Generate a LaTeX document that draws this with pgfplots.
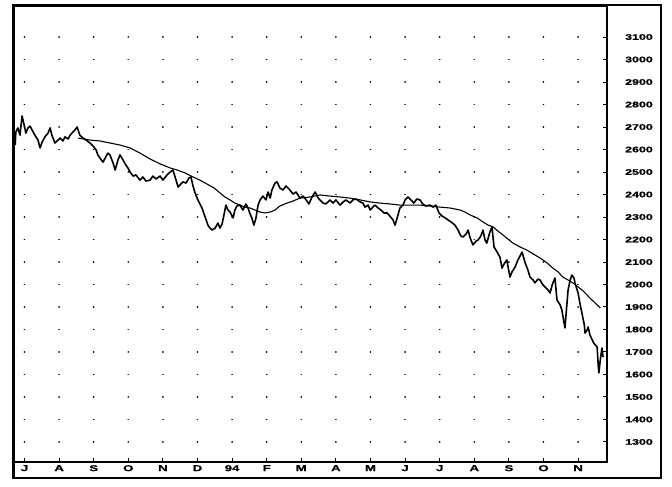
\documentclass[border=0pt]{standalone}
\usepackage{fontspec}
\setmainfont{Liberation Sans}[FakeStretch=1.55, BoldFeatures={FakeBold=1.2}]
\usepackage{pgfplots}
\pgfplotsset{compat=1.18}
\begin{document}
\begin{tikzpicture}
\path[use as bounding box] (-14bp,-25bp) rectangle (658bp,462bp);
\begin{axis}[
  at={(0,0)}, anchor=south west,
  scale only axis, width=593bp, height=456bp,
  xmin=-0.3035, xmax=16.835, ymin=1211, ymax=3238,
  axis line style={line width=1.8bp},
  xtick={0,...,16},
  xticklabels={J,A,S,O,N,D,94,F,M,A,M,J,J,A,S,O,N},
  ytick={1300,1400,...,3100},
  yticklabel pos=right, ytick pos=right, xtick pos=bottom,
  tick align=inside, major tick length=4bp,
  tick style={line width=1bp, black},
  /pgf/number format/assume math mode=true,
  /pgf/number format/1000 sep={},
  ticklabel style={font=\fontsize{8bp}{9bp}\selectfont\bfseries},
  yticklabel style={anchor=west, inner sep=0pt, xshift=18bp},
  xticklabel style={anchor=north, inner sep=0pt, yshift=-3bp, font=\fontsize{8.5bp}{9bp}\selectfont\bfseries},
  ymajorgrids=true, xmajorgrids=false,
  major y grid style={draw=black, line width=1.8bp, line cap=round, dash pattern=on 0.05bp off 34.55bp, dash phase=24.17bp},
]
\addplot[black, line width=1.6bp, line join=round] coordinates {
(-0.27,2620) (-0.25,2678) (-0.19,2696) (-0.13,2664) (-0.07,2749) (-0.01,2709)
(0.04,2673) (0.10,2696) (0.16,2704) (0.25,2678) (0.30,2664) (0.39,2642)
(0.45,2607) (0.51,2633) (0.59,2656) (0.68,2673) (0.74,2696) (0.79,2664)
(0.88,2629) (0.97,2642) (1.03,2651) (1.11,2638) (1.17,2656) (1.26,2647)
(1.32,2664) (1.40,2678) (1.46,2687) (1.52,2700) (1.60,2664) (1.69,2651)
(1.78,2642) (1.89,2629) (1.98,2616) (2.07,2598) (2.12,2576) (2.18,2562)
(2.27,2544) (2.33,2562) (2.41,2584) (2.47,2576) (2.56,2540) (2.62,2509)
(2.70,2553) (2.76,2576) (2.85,2553) (2.91,2536) (2.99,2518) (3.05,2500)
(3.14,2482) (3.22,2487) (3.34,2464) (3.42,2478) (3.51,2460) (3.63,2464)
(3.71,2482) (3.80,2469) (3.92,2482) (4.00,2464) (4.12,2487) (4.21,2500)
(4.29,2509) (4.38,2464) (4.44,2433) (4.52,2447) (4.58,2456) (4.67,2451)
(4.75,2473) (4.81,2478) (4.87,2438) (4.93,2407) (5.01,2376) (5.07,2358)
(5.13,2340) (5.19,2313) (5.25,2287) (5.30,2264) (5.36,2251) (5.42,2242)
(5.51,2251) (5.59,2273) (5.65,2251) (5.71,2269) (5.77,2313) (5.82,2353)
(5.88,2331) (5.94,2322) (6.03,2296) (6.08,2331) (6.14,2349) (6.23,2353)
(6.31,2331) (6.40,2358) (6.46,2340) (6.52,2313) (6.57,2296) (6.63,2264)
(6.69,2296) (6.75,2353) (6.81,2376) (6.89,2393) (6.98,2376) (7.04,2411)
(7.10,2384) (7.15,2420) (7.24,2451) (7.30,2456) (7.38,2429) (7.47,2420)
(7.56,2438) (7.67,2420) (7.76,2402) (7.85,2411) (7.96,2384) (8.05,2393)
(8.14,2376) (8.22,2358) (8.31,2389) (8.40,2411) (8.49,2384) (8.54,2376)
(8.63,2362) (8.71,2358) (8.83,2376) (8.92,2362) (9.00,2376) (9.12,2353)
(9.21,2367) (9.29,2376) (9.41,2362) (9.49,2376) (9.58,2380) (9.70,2367)
(9.78,2362) (9.84,2344) (9.93,2353) (9.99,2331) (10.07,2344) (10.13,2353)
(10.22,2340) (10.30,2331) (10.39,2318) (10.48,2318) (10.56,2304) (10.65,2287)
(10.71,2264) (10.77,2296) (10.85,2340) (10.94,2353) (11.00,2376) (11.08,2389)
(11.17,2376) (11.25,2362) (11.34,2380) (11.43,2376) (11.51,2358) (11.60,2349)
(11.72,2353) (11.81,2344) (11.89,2353) (11.98,2318) (12.07,2304) (12.16,2296)
(12.24,2287) (12.33,2278) (12.44,2264) (12.53,2242) (12.61,2216) (12.67,2211)
(12.76,2224) (12.82,2242) (12.88,2207) (12.96,2176) (13.05,2193) (13.11,2198)
(13.19,2216) (13.25,2242) (13.31,2198) (13.36,2184) (13.45,2233) (13.51,2256)
(13.57,2167) (13.66,2144) (13.74,2122) (13.80,2073) (13.86,2091) (13.94,2109)
(14.03,2033) (14.09,2056) (14.18,2078) (14.26,2109) (14.38,2144) (14.47,2096)
(14.55,2064) (14.61,2033) (14.70,2020) (14.75,2007) (14.84,2024) (14.90,2020)
(14.98,1998) (15.04,1989) (15.13,1976) (15.19,1962) (15.25,1998) (15.33,2029)
(15.39,1931) (15.48,1909) (15.53,1887) (15.59,1833) (15.62,1807) (15.65,1864)
(15.71,1976) (15.77,2020) (15.82,2042) (15.88,2029) (15.91,2007) (16.00,1962)
(16.05,1918) (16.11,1873) (16.18,1820) (16.20,1784) (16.26,1798) (16.29,1811)
(16.34,1776) (16.41,1753) (16.45,1740) (16.55,1722) (16.58,1642) (16.60,1607)
(16.64,1664) (16.69,1718) (16.72,1678)
};
\addplot[black, line width=1.1bp, line join=round] coordinates {
(1.55,2651) (1.89,2642) (2.18,2638) (2.47,2629) (2.76,2620) (3.05,2607)
(3.34,2584) (3.63,2558) (3.92,2536) (4.21,2518) (4.41,2509) (4.64,2496)
(4.87,2478) (5.07,2464) (5.27,2447) (5.48,2429) (5.65,2407) (5.79,2389)
(5.94,2376) (6.08,2362) (6.23,2353) (6.37,2344) (6.52,2340) (6.66,2331)
(6.81,2322) (6.95,2318) (7.10,2322) (7.24,2331) (7.38,2349) (7.59,2362)
(7.76,2371) (7.96,2384) (8.25,2389) (8.54,2398) (8.83,2393) (9.12,2389)
(9.41,2384) (9.70,2376) (9.99,2367) (10.27,2362) (10.56,2358) (10.85,2353)
(11.14,2353) (11.43,2353) (11.72,2349) (12.01,2344) (12.30,2340) (12.59,2331)
(12.73,2322) (12.88,2309) (13.08,2296) (13.25,2278) (13.40,2264) (13.54,2256)
(13.68,2238) (13.83,2220) (13.97,2202) (14.12,2184) (14.32,2167) (14.52,2153)
(14.70,2136) (14.90,2118) (15.10,2096) (15.27,2073) (15.42,2056) (15.56,2033)
(15.71,2020) (15.85,2007) (16.00,1989) (16.11,1976) (16.23,1958) (16.34,1940)
(16.49,1918) (16.64,1896)
};
\end{axis}
\draw[line width=2.2bp] (-1bp,-16bp) rectangle (647bp,457bp);
\draw[line width=3.5bp] (-0.5bp,-16bp) -- (-0.5bp,457bp);
\end{tikzpicture}
\end{document}
